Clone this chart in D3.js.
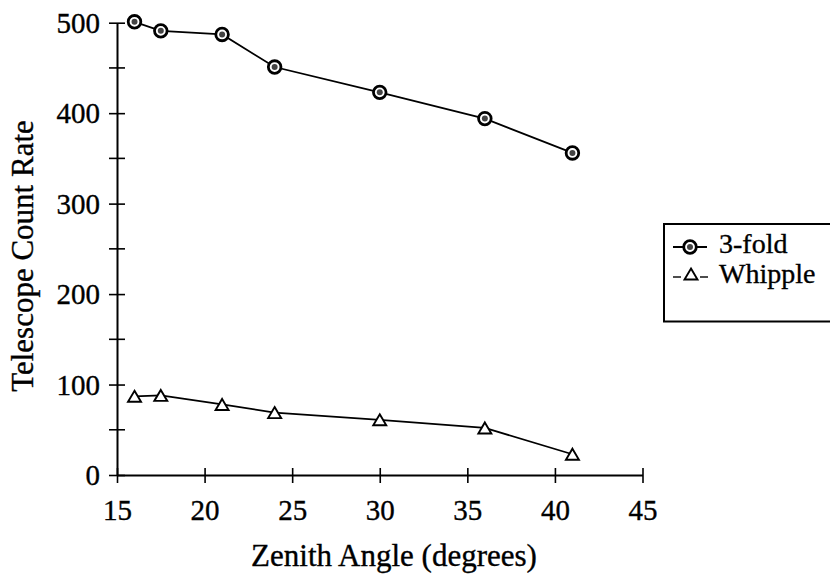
<!DOCTYPE html>
<html><head><meta charset="utf-8">
<script src="https://cdn.jsdelivr.net/npm/d3@7"></script>
<style>body{margin:0;background:#fff}svg{display:block}text{font-family:"Liberation Serif","Times New Roman",serif;fill:#000;stroke:#000;stroke-width:0.35px}</style>
</head><body><svg id="c" width="830" height="576"></svg>
<script>
const zenith = [16, 17.5, 21, 24, 30, 36, 41];
const threeFold = [501, 491, 487, 451, 423, 394, 356];
const whipple = [87, 88, 78, 69, 61, 52, 23];
const xTicks = [15, 20, 25, 30, 35, 40, 45];
const yTicks = [0, 100, 200, 300, 400, 500];
const yMinor = [50, 150, 250, 350, 450];
const seriesNames = ["3-fold", "Whipple"];

const svg = d3.select("#c");
const x = d3.scaleLinear().domain([15, 45]).range([117, 642.5]);
const y = d3.scaleLinear().domain([0, 500]).range([475, 22.7]);

// axes
const gx = svg.append("g").attr("transform", `translate(0,${y(0)})`)
  .call(d3.axisBottom(x).tickValues(xTicks).tickSize(0).tickPadding(0));
gx.select(".domain").attr("stroke", "#000").attr("stroke-width", 2);
gx.selectAll(".tick text").attr("font-size", 29).attr("dy", null).attr("y", 45);
gx.selectAll(".tick").append("line").attr("y1", -7).attr("y2", 8).attr("stroke", "#000").attr("stroke-width", 1.6);

const gy = svg.append("g").attr("transform", `translate(${x(15)},0)`)
  .call(d3.axisLeft(y).tickValues(yTicks).tickSize(0).tickPadding(0));
gy.select(".domain").attr("stroke", "#000").attr("stroke-width", 2);
gy.selectAll(".tick text").attr("font-size", 29).attr("x", -17).attr("dy", "0.33em");
gy.selectAll(".tick").append("line").attr("x1", -8).attr("x2", 8).attr("stroke", "#000").attr("stroke-width", 1.6);
svg.append("g").selectAll("line").data(yMinor).join("line")
  .attr("x1", x(15) - 8).attr("x2", x(15) + 8).attr("y1", d => y(d)).attr("y2", d => y(d))
  .attr("stroke", "#000").attr("stroke-width", 1.6);

// titles
svg.append("text").attr("x", 394).attr("y", 566).attr("text-anchor", "middle")
  .attr("font-size", 31).text("Zenith Angle (degrees)");
svg.append("text").attr("transform", "translate(33,256) rotate(-90)").attr("text-anchor", "middle")
  .attr("font-size", 31).text("Telescope Count Rate");

const line = d3.line().x(d => x(d[0])).y(d => y(d[1]));
const d3fold = zenith.map((z, i) => [z, threeFold[i]]);
const dWhip = zenith.map((z, i) => [z, whipple[i]]);

svg.append("path").datum(d3fold).attr("d", line).attr("fill", "none").attr("stroke", "#000").attr("stroke-width", 1.8);
svg.append("path").datum(dWhip).attr("d", line).attr("fill", "none").attr("stroke", "#000").attr("stroke-width", 1.7);

function circleMarker(g, cx, cy) {
  g.append("circle").attr("cx", cx).attr("cy", cy).attr("r", 6.3).attr("fill", "#fff").attr("stroke", "#000").attr("stroke-width", 2.8);
  g.append("circle").attr("cx", cx).attr("cy", cy).attr("r", 3).attr("fill", "#444");
}
function triMarker(g, cx, cy) {
  const h = 11, w = 13;
  g.append("path").attr("d", `M${cx},${cy - h / 2}L${cx + w / 2},${cy + h / 2}L${cx - w / 2},${cy + h / 2}Z`)
    .attr("fill", "#fff").attr("stroke", "#000").attr("stroke-width", 1.9).attr("stroke-linejoin", "miter");
}
const gm = svg.append("g");
d3fold.forEach(d => circleMarker(gm, x(d[0]), y(d[1])));
dWhip.forEach(d => triMarker(gm, x(d[0]), y(d[1])));

// legend
const lg = svg.append("g");
lg.append("rect").attr("x", 664).attr("y", 224).attr("width", 200).attr("height", 97.5)
  .attr("fill", "none").attr("stroke", "#000").attr("stroke-width", 2);
lg.append("line").attr("x1", 673).attr("x2", 707).attr("y1", 247).attr("y2", 247).attr("stroke", "#000").attr("stroke-width", 1.8);
circleMarker(lg, 690, 247);
lg.append("text").attr("x", 719).attr("y", 253).attr("font-size", 28).text(seriesNames[0]);
lg.append("line").attr("x1", 673).attr("x2", 681).attr("y1", 277).attr("y2", 277).attr("stroke", "#000").attr("stroke-width", 1.4);
lg.append("line").attr("x1", 700).attr("x2", 708).attr("y1", 277).attr("y2", 277).attr("stroke", "#000").attr("stroke-width", 1.4);
triMarker(lg, 691, 274);
lg.append("text").attr("x", 719).attr("y", 283).attr("font-size", 28).text(seriesNames[1]);
</script></body></html>
